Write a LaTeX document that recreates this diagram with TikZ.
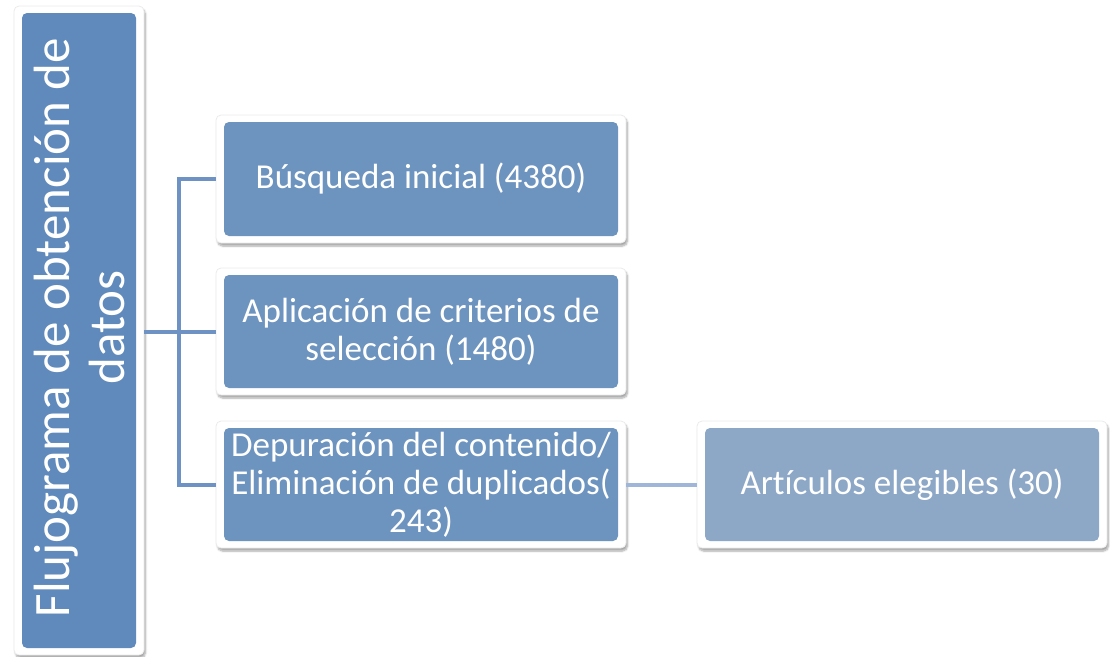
\documentclass[tikz,border=0pt]{standalone}
\usepackage{fontspec}
\setmainfont{Carlito}[Ligatures=NoCommon]
\usetikzlibrary{shadows.blur}
\definecolor{leftblue}{HTML}{5F8ABB}
\definecolor{boxblue}{HTML}{6D93BF}
\definecolor{lightblue}{HTML}{8DA7C7}
\definecolor{linkblue}{HTML}{6E92C3}
\definecolor{linklight}{HTML}{A0B6D8}
\begin{document}
\begin{tikzpicture}[x=1pt,y=-1pt,
  framebox/.style={fill=white, draw=black!8, line width=0.8pt, rounded corners=5pt, inner sep=0pt,
    blur shadow={shadow blur steps=6, shadow xshift=1.5pt, shadow yshift=-3pt, shadow opacity=35},
    text=white, align=center,
    path picture={\fill[#1] ([xshift=8pt,yshift=-7pt]path picture bounding box.north west) rectangle ([xshift=-8pt,yshift=7pt]path picture bounding box.south east);}},
  boxtext/.style={font=\fontsize{35}{38}\selectfont},
  link/.style={draw=linkblue, line width=4pt},
  linklt/.style={draw=linklight, line width=4pt}]
\useasboundingbox (0,0) rectangle (1110,656);
\node[framebox=leftblue, minimum width=130pt, minimum height=649pt] (L) at (79,330.5) {};
\node[text=white, rotate=90, align=center, font=\fontsize{51}{55}\selectfont] (LT) at ([yshift=3pt]L.center) {Flujograma de obtención de\\datos};
\node[framebox=boxblue, boxtext, minimum width=410pt, minimum height=128pt] (B1) at (421,179) {Búsqueda inicial (4380)};
\node[framebox=boxblue, boxtext, minimum width=410pt, minimum height=127pt] (B2) at (421,331.5) {Aplicación de criterios de\\selección (1480)};
\node[framebox=boxblue, boxtext, minimum width=410pt, minimum height=127pt] (B3) at (421,484.5) {Depuración del contenido/\\Eliminación de duplicados(\\243)};
\node[framebox=lightblue, boxtext, minimum width=410pt, minimum height=127pt] (B4) at (902,484.5) {Artículos elegibles (30)};
\coordinate (J) at (179,331.5);
\draw[link] (L.east |- J) -- (B2.west);
\draw[link] (B1.west) -| (J) |- (B3.west);
\draw[linklt] (B3.east) -- (B4.west);
\end{tikzpicture}
\end{document}
